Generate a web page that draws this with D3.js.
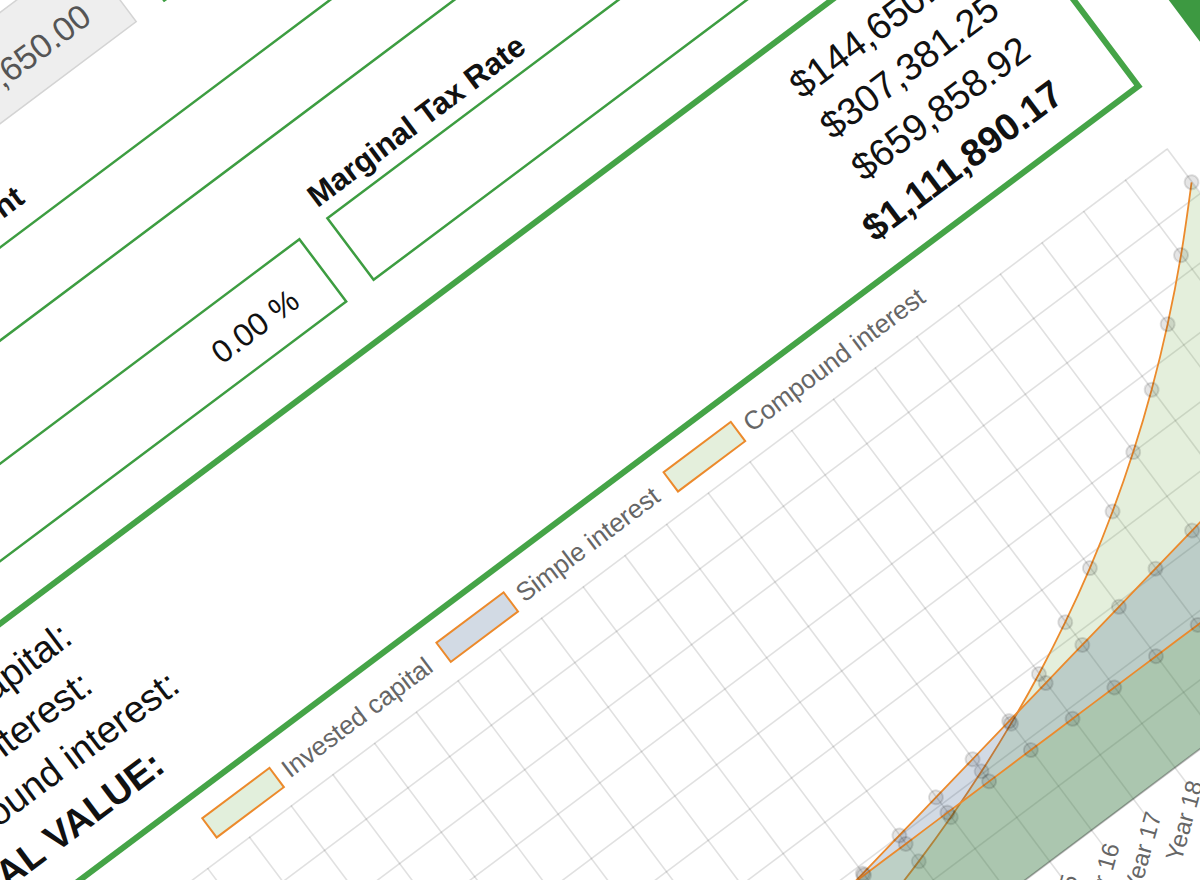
<!DOCTYPE html>
<html>
<head>
<meta charset="utf-8">
<script src="https://cdn.jsdelivr.net/npm/d3@7"></script>
<style>
html,body{margin:0;padding:0;background:#fff;overflow:hidden}
svg{display:block}
</style>
</head>
<body>
<svg id="c" width="1200" height="880"></svg>
<script>
// ---------------- data ----------------
const years = ["Year 1","Year 2","Year 3","Year 4","Year 5","Year 6","Year 7","Year 8","Year 9","Year 10",
  "Year 11","Year 12","Year 13","Year 14","Year 15","Year 16","Year 17","Year 18","Year 19","Year 20",
  "Year 21","Year 22","Year 23","Year 24","Year 25"];
const investedCapital = [144650,144650,144650,144650,144650,144650,144650,144650,144650,144650,
  144650,144650,144650,144650,144650,144650,144650,144650,144650,144650,
  144650,144650,144650,144650,144650];
const simpleInterest = [12295,24591,36886,49181,61476,73772,86067,98362,110657,122953,
  135248,147543,159838,172134,184429,196724,209019,221315,233610,245905,
  258200,270496,282791,295086,307381];
const compoundInterest = [0,1045,3224,6634,11378,17570,25334,34803,46123,59449,
  74953,92821,113252,136462,162694,192200,225257,262173,303268,348903,
  399461,455362,517060,585048,659859];
const yTicks = [0,80000,160000,240000,320000,400000,480000,560000,640000,720000];
const seriesNames = ["Invested capital","Simple interest","Compound interest"];
const summaryLabels = ["Invested capital:","Simple interest:","Compound interest:","TOTAL VALUE:"];
const summaryValues = ["$144,650.00","$307,381.25","$659,858.92","$1,111,890.17"];
const fieldLabels = ["Initial Investment","Interest Rate","Additional Annual Investment","Inflation Rate","Marginal Tax Rate"];
const fieldValues = ["144,650.00","8.50 %","","0.00 %",""];

// ---------------- setup ----------------
const FONT = '"Liberation Sans", Arial, Helvetica, sans-serif';
const GREEN = '#3d9d41';
const GREEN_THICK = '#45a447';
const ORANGE = '#ec8a2c';
const svg = d3.select('#c');
svg.append('rect').attr('width',1200).attr('height',880).attr('fill','#fff');
const page = svg.append('g').attr('transform','matrix(0.8,-0.6,0.6,0.8,0,0)');

const L = -630, R = 862, C1R = 96, C2L = 131;

function txt(parent,x,y,s,o){
  o = o || {};
  return parent.append('text').attr('x',x).attr('y',y).text(s)
    .attr('font-family',FONT).attr('font-size',o.size||30)
    .attr('font-weight',o.weight||'normal').attr('fill',o.fill||'#111')
    .attr('text-anchor',o.anchor||'start');
}
function box(x,y,w,h,o){
  o = o || {};
  return page.append('rect').attr('x',x).attr('y',y).attr('width',w).attr('height',h)
    .attr('fill',o.fill||'#fff').attr('stroke',o.stroke||GREEN).attr('stroke-width',o.sw||2.5);
}

// side block (top right)
page.append('rect').attr('x',935).attr('y',560).attr('width',320).attr('height',260).attr('fill','#3d9941');

// ---------------- form ----------------
// row A
txt(page,L,-22,fieldLabels[0],{weight:'bold',size:31});
txt(page,C2L,-22,fieldLabels[1],{weight:'bold',size:31});
box(L,10,C1R-L,89,{fill:'#eeeeee',stroke:'#d4d4d4',sw:1.5});
txt(page,62,73,fieldValues[0],{size:34,fill:'#555',anchor:'end'});
box(C2L,10,R-C2L,89);
txt(page,R-40,71,fieldValues[1],{size:32,anchor:'end'});
// row B
txt(page,-100,177,fieldLabels[2],{weight:'bold',size:31,anchor:'end'});
box(L,198,R-L,74.5);
// row C
txt(page,L,358,fieldLabels[3],{weight:'bold',size:31});
txt(page,129,357,fieldLabels[4],{weight:'bold',size:31});
box(L,371,C1R-L,78);
txt(page,58,425,fieldValues[3],{size:32,anchor:'end'});
box(C2L,371,R-C2L,77);

// ---------------- results box ----------------
box(L,499,859-L,253,{sw:6,stroke:GREEN_THICK});
const rowBase = [561,612,664,719];
summaryLabels.forEach((s,i)=>{
  const last = i===summaryLabels.length-1;
  txt(page,-600,rowBase[i]-3,s,{size:38,weight:last?'bold':'normal'});
  txt(page,793,rowBase[i],summaryValues[i],{size:38,weight:last?'bold':'normal',anchor:'end'});
});

// ---------------- chart ----------------
const x0 = -407.5, x1 = 843.9;
const x = d3.scalePoint().domain(years).range([x0,x1]);
const y = d3.scaleLinear().domain([0,720000]).range([1319,819]);
const chart = page.append('g');

const gx = chart.append('g').attr('transform',`translate(0,${y(0)+20})`)
  .call(d3.axisBottom(x).tickSize(-(y(0)-y(720000)+20)).tickPadding(0));
gx.select('.domain').remove();
gx.selectAll('.tick line').attr('stroke','rgba(0,0,0,0.12)').attr('stroke-width',1.6);
gx.selectAll('.tick text').attr('font-family',FONT).attr('font-size',24).attr('fill','#666')
  .attr('text-anchor','end').attr('y',0).attr('dy','0.35em')
  .attr('transform','translate(8,3) rotate(-37.5)');

const gy = chart.append('g').attr('transform',`translate(${x0-20},0)`)
  .call(d3.axisLeft(y).tickValues(yTicks).tickSize(-(x1-x0+20)).tickPadding(10)
    .tickFormat(d=>'$'+d3.format(',')(d)));
gy.select('.domain').remove();
gy.selectAll('.tick line').attr('stroke','rgba(0,0,0,0.12)').attr('stroke-width',1.6);
gy.selectAll('.tick text').attr('font-family',FONT).attr('font-size',24).attr('fill','#666');

const series = [
  {name:seriesNames[0], values:investedCapital, fill:'rgba(94,166,61,0.18)'},
  {name:seriesNames[1], values:simpleInterest, fill:'rgba(30,70,120,0.2)'},
  {name:seriesNames[2], values:compoundInterest, fill:'rgba(105,166,61,0.18)'}
];
const area = d3.area().x((d,i)=>x(years[i])).y0(y(0)).y1(d=>y(d)).curve(d3.curveMonotoneX);
const line = area.lineY1();
series.slice().reverse().forEach(s=>{
  const g = chart.append('g');
  g.append('path').datum(s.values).attr('d',area).attr('fill',s.fill);
  g.append('path').datum(s.values).attr('d',line).attr('fill','none')
    .attr('stroke',ORANGE).attr('stroke-width',1.8);
  g.selectAll('circle').data(s.values).join('circle')
    .attr('cx',(d,i)=>x(years[i])).attr('cy',d=>y(d)).attr('r',7)
    .attr('fill','rgba(0,0,0,0.1)').attr('stroke','rgba(0,0,0,0.12)').attr('stroke-width',2);
});
chart.append('line').attr('x1',x0-20).attr('x2',x1).attr('y1',y(0)).attr('y2',y(0))
  .attr('stroke','rgba(0,0,0,0.25)').attr('stroke-width',1.6);

// legend
const leg = page.append('g');
const BW = 84, BH = 24, GAP = 10, ITEM = 18, LEG_CX = 116, LEG_Y = 776;
const widths = series.map(s=>{
  const t = txt(leg,0,0,s.name,{size:26,fill:'#666'});
  const w = t.node().getComputedTextLength(); t.remove(); return w;
});
const total = d3.sum(widths) + series.length*(BW+GAP) + ITEM*(series.length-1);
let cx = LEG_CX - total/2;
series.forEach((s,i)=>{
  leg.append('rect').attr('x',cx).attr('y',LEG_Y).attr('width',BW).attr('height',BH)
    .attr('fill',s.fill).attr('stroke',ORANGE).attr('stroke-width',2);
  txt(leg,cx+BW+GAP,LEG_Y+BH/2+9,s.name,{size:26,fill:'#666'});
  cx += BW+GAP+widths[i]+ITEM;
});
</script>
</body>
</html>
